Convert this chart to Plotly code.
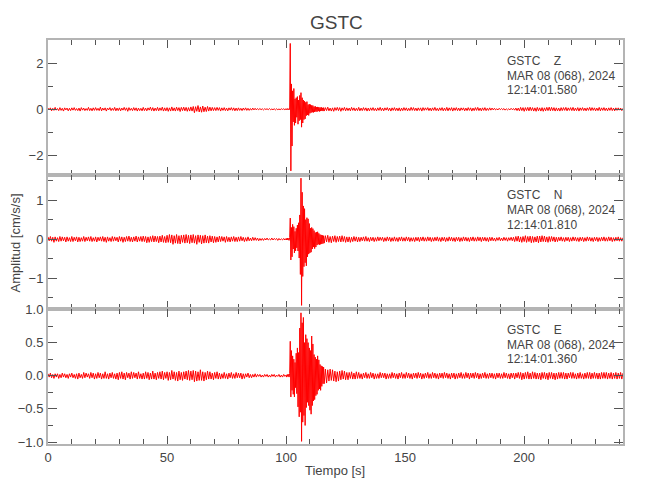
import plotly.graph_objects as go

# ---------------- data ----------------
STATION = "GSTC"
COMPONENTS = ["Z", "N", "E"]
DATE_TXT = "MAR 08 (068), 2024"
START_TIMES = ["12:14:01.580", "12:14:01.810", "12:14:01.360"]

# sampling of the traced values
PRE_START, PRE_STEP = 0.0, 0.5       # 0 .. 99.5 s
EVT_START, EVT_STEP = 100.0, 0.25    # 100 .. 115.75 s
POST_START, POST_STEP = 116.0, 0.5   # 116 .. 241.5 s

Z_PRE = [.05,-.03,.06,-.07,.04,-.05,.08,-.04,.03,-.06,.07,-.05,.04,-.08,.06,-.03,.05,-.07,.04,-.06,
         .06,-.04,.07,-.05,.03,-.06,.05,-.08,.07,-.04,.05,-.06,.03,-.05,.08,-.06,.04,-.07,.06,-.05,
         .07,-.05,.04,-.06,.09,-.07,.05,-.04,.06,-.08,.05,-.03,.07,-.06,.04,-.05,.08,-.07,.05,-.06,
         .06,-.07,.05,-.04,.08,-.05,.06,-.09,.07,-.05,.04,-.06,.07,-.05,.06,-.08,.05,-.06,.04,-.07,
         .08,-.06,.05,-.07,.06,-.04,.09,-.06,.07,-.08,.05,-.06,.08,-.07,.06,-.05,.09,-.08,.06,-.07,
         .07,-.09,.06,-.08,.10,-.07,.06,-.08,.09,-.06,.07,-.10,.08,-.06,.09,-.07,.08,-.09,.07,-.08,
         .10,-.08,.12,-.15,.11,-.09,.16,-.12,.10,-.13,.14,-.11,.09,-.10,.12,-.08,.09,-.07,.08,-.06,
         .07,-.06,.08,-.05,.07,-.08,.06,-.05,.07,-.06,.05,-.07,.06,-.04,.07,-.05,.06,-.07,.05,-.06,
         .06,-.05,.04,-.06,.05,-.04,.06,-.05,.04,-.05,.03,-.04,.05,-.03,.04,-.03,.03,-.02,.03,-.02,
         .02,-.03,.02,-.01,.02,-.02,.03,-.02,.01,-.02,.02,-.03,.02,-.02,.01,-.02,.02,-.01,.02,-.02]
Z_EVT = [.02,-.02,.03,-.02,.02,-.03,.05,2.86,-2.68,1.1,
         -1.6,.8,-.55,.9,-.7,.45,-.6,.5,-.35,.55,
         -.65,.4,-.5,.6,-.45,.72,-.78,.5,-.6,.4,
         -.45,.35,-.42,.3,-.28,.33,-.25,.2,-.27,.22,
         -.18,.2,-.15,.17,-.13,.16,-.14,.11,-.12,.13,
         -.1,.09,-.11,.1,-.08,.09,-.1,.07,-.08,.09,
         -.07,.06,-.08,.07]
Z_POST = [-.08,.07,-.06,.09,-.07,.05,-.08,.06,-.09,.07,-.05,.08,-.06,.07,-.09,.06,-.05,.08,-.07,.06,
          -.06,.05,-.07,.08,-.05,.06,-.07,.04,-.06,.08,-.07,.05,-.06,.07,-.05,.06,-.08,.05,-.07,.06,
          -.05,.07,-.06,.04,-.07,.06,-.05,.08,-.06,.05,-.07,.06,-.04,.07,-.06,.05,-.08,.06,-.05,.07,
          -.06,.05,-.07,.06,-.08,.05,-.06,.07,-.05,.06,-.07,.04,-.06,.08,-.05,.07,-.06,.05,-.07,.06,
          -.05,.06,-.08,.07,-.05,.06,-.04,.07,-.06,.05,-.07,.06,-.05,.08,-.06,.04,-.07,.06,-.05,.07,
          -.07,.05,-.06,.08,-.07,.06,-.05,.07,-.08,.06,-.05,.07,-.06,.05,-.07,.06,-.04,.06,-.07,.05,
          -.06,.07,-.05,.06,-.08,.05,-.06,.07,-.05,.08,-.06,.05,-.07,.06,-.05,.07,-.06,.04,-.05,.06,
          -.04,.05,-.03,.04,-.03,.02,-.03,.04,-.02,.03,-.02,.03,-.04,.02,-.03,.02,-.03,.04,-.02,.03,
          -.04,.05,-.06,.05,-.07,.08,-.06,.07,-.09,.07,-.06,.08,-.07,.09,-.06,.07,-.08,.06,-.09,.08,
          -.07,.06,-.08,.07,-.09,.06,-.07,.08,-.06,.09,-.07,.08,-.06,.07,-.08,.06,-.07,.05,-.08,.07,
          -.06,.07,-.05,.08,-.07,.06,-.05,.07,-.06,.08,-.07,.05,-.06,.07,-.08,.06,-.05,.07,-.06,.05,
          -.07,.06,-.05,.08,-.06,.07,-.05,.06,-.07,.05,-.06,.08,-.07,.06,-.05,.07,-.06,.05,-.07,.06,
          -.05,.07,-.06,.05,-.07,.06,-.05,.06,-.04,.05,-.06,.04]

N_PRE = [.06,-.04,.07,-.05,.05,-.08,.06,-.05,.04,-.06,.07,-.05,.06,-.04,.05,-.07,.06,-.05,.04,-.06,
         .07,-.06,.05,-.04,.06,-.07,.05,-.06,.04,-.05,.07,-.06,.05,-.04,.06,-.05,.07,-.06,.04,-.05,
         .06,-.07,.05,-.04,.06,-.05,.07,-.06,.05,-.08,.06,-.05,.04,-.06,.07,-.05,.06,-.04,.05,-.07,
         .07,-.05,.06,-.08,.05,-.06,.07,-.05,.08,-.06,.05,-.07,.06,-.05,.08,-.07,.06,-.05,.07,-.06,
         .08,-.06,.07,-.09,.06,-.08,.07,-.06,.09,-.07,.08,-.06,.07,-.09,.08,-.07,.10,-.08,.07,-.09,
         .10,-.08,.12,-.09,.11,-.13,.09,-.10,.12,-.11,.09,-.12,.10,-.08,.11,-.10,.12,-.09,.10,-.11,
         .11,-.09,.12,-.10,.09,-.13,.11,-.08,.10,-.12,.09,-.10,.11,-.09,.08,-.10,.09,-.07,.08,-.09,
         .07,-.08,.06,-.07,.08,-.06,.07,-.05,.06,-.08,.07,-.06,.05,-.07,.06,-.05,.07,-.06,.05,-.06,
         .06,-.05,.07,-.04,.05,-.06,.04,-.05,.06,-.04,.03,-.04,.05,-.03,.04,-.03,.03,-.04,.02,-.03,
         .02,-.03,.02,-.02,.03,-.02,.01,-.02,.03,-.02,.02,-.01,.02,-.03,.02,-.02,.01,-.02,.02,-.02]
N_EVT = [.02,-.02,.03,-.02,.02,-.03,.04,.54,-.53,.3,
         -.45,.38,-.25,.32,-.35,.2,-.3,.28,-.22,.36,
         -.3,.42,-.48,.62,-.9,1.56,-1.69,1.2,-.95,.85,
         -.7,.78,-.6,.5,-.68,.55,-.45,.52,-.38,.4,
         -.35,.28,-.33,.3,-.25,.27,-.2,.22,-.24,.17,
         -.2,.18,-.15,.19,-.13,.15,-.14,.12,-.13,.11,
         -.12,.1,-.11,.09]
N_POST = [-.1,.09,-.07,.1,-.08,.07,-.09,.08,-.06,.09,-.08,.07,-.06,.08,-.07,.09,-.06,.07,-.08,.06,
          -.07,.06,-.08,.05,-.06,.07,-.05,.06,-.07,.05,-.06,.05,-.04,.06,-.05,.07,-.05,.04,-.06,.05,
          -.04,.05,-.06,.04,-.05,.06,-.04,.05,-.03,.05,-.06,.04,-.05,.06,-.04,.05,-.06,.04,-.05,.06,
          -.05,.04,-.06,.05,-.04,.06,-.05,.04,-.05,.06,-.04,.05,-.06,.04,-.05,.04,-.06,.05,-.04,.05,
          -.06,.05,-.04,.06,-.05,.04,-.05,.06,-.04,.05,-.06,.04,-.05,.05,-.04,.06,-.05,.04,-.06,.05,
          -.04,.05,-.06,.04,-.05,.06,-.04,.05,-.05,.04,-.06,.05,-.04,.05,-.06,.04,-.05,.06,-.04,.05,
          -.05,.04,-.06,.05,-.04,.06,-.05,.04,-.05,.06,-.04,.05,-.06,.05,-.04,.05,-.05,.04,-.06,.05,
          -.04,.05,-.04,.03,-.05,.04,-.03,.05,-.04,.03,-.04,.05,-.03,.04,-.05,.04,-.03,.05,-.04,.05,
          -.06,.07,-.05,.08,-.07,.06,-.08,.07,-.06,.09,-.08,.07,-.06,.08,-.09,.07,-.08,.06,-.07,.08,
          -.09,.08,-.07,.09,-.06,.08,-.07,.06,-.08,.07,-.06,.07,-.05,.06,-.07,.05,-.06,.05,-.04,.06,
          -.05,.04,-.06,.05,-.04,.05,-.06,.04,-.05,.06,-.04,.05,-.05,.04,-.06,.05,-.04,.05,-.06,.04,
          -.05,.06,-.04,.05,-.05,.04,-.06,.05,-.04,.05,-.06,.04,-.05,.05,-.04,.06,-.05,.04,-.05,.06,
          -.04,.05,-.06,.04,-.05,.05,-.04,.06,-.05,.04,-.05,.04]

E_PRE = [.03,-.02,.04,-.03,.02,-.04,.03,-.02,.03,-.04,.02,-.03,.04,-.02,.03,-.03,.02,-.04,.03,-.02,
         .04,-.03,.02,-.04,.03,-.05,.04,-.03,.02,-.04,.05,-.03,.04,-.02,.03,-.04,.05,-.03,.04,-.05,
         .03,-.04,.05,-.03,.04,-.05,.03,-.04,.06,-.04,.03,-.05,.04,-.03,.05,-.04,.03,-.05,.04,-.06,
         .05,-.04,.06,-.05,.04,-.06,.05,-.03,.04,-.05,.06,-.04,.05,-.03,.04,-.05,.06,-.04,.03,-.05,
         .04,-.05,.06,-.04,.05,-.06,.04,-.05,.07,-.05,.04,-.06,.05,-.04,.06,-.05,.07,-.06,.05,-.04,
         .06,-.07,.05,-.06,.08,-.05,.06,-.07,.05,-.08,.07,-.06,.05,-.07,.06,-.05,.07,-.06,.08,-.07,
         .07,-.06,.08,-.09,.07,-.08,.06,-.07,.09,-.07,.06,-.08,.05,-.06,.07,-.05,.06,-.05,.04,-.06,
         .05,-.04,.06,-.05,.04,-.05,.03,-.04,.05,-.04,.03,-.05,.04,-.03,.05,-.04,.03,-.04,.05,-.03,
         .04,-.03,.04,-.05,.03,-.04,.03,-.02,.04,-.03,.02,-.03,.02,-.02,.03,-.02,.02,-.01,.02,-.02,
         .01,-.02,.02,-.01,.02,-.02,.01,-.02,.02,-.01,.02,-.02,.01,-.01,.02,-.02,.01,-.02,.02,-.01]
E_EVT = [.01,-.02,.02,-.01,.02,-.02,.03,.52,-.32,.38,
         -.22,.3,-.28,.25,-.32,.2,-.18,.34,-.27,.42,
         -.47,.35,-.62,.72,-.55,.95,-.99,.8,-.7,.88,
         -.6,.5,-.75,.62,-.48,.56,-.4,.5,-.45,.42,
         -.52,.38,-.58,.6,-.45,.48,-.38,.32,-.36,.28,
         -.3,.25,-.28,.3,-.22,.24,-.2,.17,-.22,.15,
         -.16,.14,-.12,.13]
E_POST = [-.12,.1,-.11,.09,-.08,.1,-.07,.09,-.08,.07,-.09,.06,-.08,.07,-.06,.08,-.05,.07,-.06,.05,
          -.06,.05,-.04,.06,-.05,.04,-.05,.06,-.04,.05,-.04,.03,-.05,.04,-.03,.05,-.04,.03,-.04,.05,
          -.03,.04,-.05,.03,-.04,.03,-.04,.05,-.03,.04,-.03,.04,-.05,.03,-.04,.03,-.04,.05,-.03,.04,
          -.04,.03,-.05,.04,-.03,.05,-.04,.03,-.04,.05,-.03,.04,-.04,.03,-.05,.04,-.03,.04,-.04,.05,
          -.03,.04,-.05,.03,-.04,.04,-.03,.05,-.04,.03,-.04,.05,-.03,.04,-.04,.03,-.05,.04,-.03,.04,
          -.04,.05,-.03,.04,-.04,.03,-.05,.04,-.03,.04,-.05,.03,-.04,.04,-.03,.05,-.04,.03,-.04,.05,
          -.03,.04,-.05,.04,-.03,.04,-.04,.05,-.03,.04,-.05,.03,-.04,.04,-.03,.05,-.04,.03,-.04,.04,
          -.03,.04,-.04,.03,-.05,.04,-.03,.04,-.04,.03,-.04,.05,-.03,.04,-.04,.03,-.05,.04,-.03,.04,
          -.05,.04,-.03,.05,-.04,.05,-.06,.04,-.05,.05,-.04,.06,-.05,.04,-.05,.06,-.04,.05,-.05,.04,
          -.05,.04,-.06,.05,-.04,.05,-.05,.04,-.06,.05,-.04,.05,-.05,.04,-.06,.04,-.05,.05,-.04,.05,
          -.04,.05,-.05,.04,-.05,.04,-.03,.05,-.04,.05,-.04,.03,-.05,.04,-.04,.05,-.04,.03,-.05,.04,
          -.04,.05,-.04,.05,-.05,.04,-.04,.05,-.04,.04,-.05,.04,-.05,.05,-.04,.05,-.04,.05,-.05,.04,
          -.04,.05,-.05,.04,-.04,.05,-.05,.04,-.04,.05,-.05,.04]

TRACES = [(Z_PRE, Z_EVT, Z_POST), (N_PRE, N_EVT, N_POST), (E_PRE, E_EVT, E_POST)]

X_RANGE = [0, 241.5]
Y_RANGES = [[-2.86, 3.01], [-1.79, 1.64], [-1.03, 1.003]]
Y_DTICK = [2, 1, 0.5]
Y_MINOR = [1, 0.5, 0.25]
Y_FMT = ["", "", ".1f"]

# ---------------- figure ----------------
FONT = "Liberation Sans, Arial, sans-serif"
TXT = "#444444"
FRAME = "#b4b4b4"
TICK = "#555555"

def times(seg, start, step):
    return [start + step * i for i in range(len(seg))]

fig = go.Figure()
domains = [[0.6658, 1.0], [0.3334, 0.6658], [0.0, 0.3334]]

for k, (pre, evt, post) in enumerate(TRACES):
    t = times(pre, PRE_START, PRE_STEP) + times(evt, EVT_START, EVT_STEP) + times(post, POST_START, POST_STEP)
    v = list(pre) + list(evt) + list(post)
    sfx = "" if k == 0 else str(k + 1)
    fig.add_trace(go.Scatter(x=t, y=v, mode="lines", line=dict(color="#ff0000", width=1),
                             xaxis="x" + sfx, yaxis="y" + sfx, showlegend=False,
                             hoverinfo="skip"))
    xa = dict(domain=[0, 1], anchor="y" + sfx, range=X_RANGE, showgrid=False, zeroline=False,
              showline=True, linecolor=FRAME, linewidth=2, mirror="allticks",
              ticks="inside", ticklen=8, tickwidth=1, tickcolor=TICK, dtick=50, tick0=0,
              minor=dict(ticks="inside", ticklen=5, tickwidth=1, tickcolor=TICK, dtick=10, showgrid=False),
              showticklabels=(k == 2), tickfont=dict(family=FONT, size=13, color=TXT))
    ya = dict(domain=domains[k], anchor="x" + sfx, range=Y_RANGES[k], showgrid=False, zeroline=False,
              showline=True, linecolor=FRAME, linewidth=2, mirror="allticks",
              ticks="inside", ticklen=9, tickwidth=1, tickcolor=TICK, dtick=Y_DTICK[k], tick0=0,
              minor=dict(ticks="inside", ticklen=5, tickwidth=1, tickcolor=TICK, dtick=Y_MINOR[k], showgrid=False),
              tickformat=Y_FMT[k], tickfont=dict(family=FONT, size=13, color=TXT))
    fig.update_layout(**{"xaxis" + sfx: xa, "yaxis" + sfx: ya})

annotations = []
label_y = [[0.947, 0.912, 0.877], [0.6156, 0.578, 0.543], [0.2815, 0.246, 0.21]]
for k, comp in enumerate(COMPONENTS):
    lines = [STATION + "\u00a0\u00a0\u00a0\u00a0" + comp, DATE_TXT, START_TIMES[k]]
    for j, txt in enumerate(lines):
        annotations.append(dict(text=txt, xref="paper", yref="paper", x=0.7955, y=label_y[k][j],
                                xanchor="left", yanchor="middle", showarrow=False,
                                font=dict(family=FONT, size=12, color=TXT)))

annotations.append(dict(text=STATION, xref="paper", yref="paper", x=0.501, y=1.044,
                        xanchor="center", yanchor="middle", showarrow=False,
                        font=dict(family=FONT, size=19, color=TXT)))
annotations.append(dict(text="Tiempo [s]", xref="paper", yref="paper", x=0.499, y=-0.0667,
                        xanchor="center", yanchor="middle", showarrow=False,
                        font=dict(family=FONT, size=13, color=TXT)))
annotations.append(dict(text="Amplitud [cm/s/s]", xref="paper", yref="paper", x=-0.0574, y=0.499,
                        xanchor="center", yanchor="middle", showarrow=False, textangle=-90,
                        font=dict(family=FONT, size=13, color=TXT)))

fig.update_layout(width=650, height=500, margin=dict(l=48, r=27, t=40, b=56),
                  paper_bgcolor="white", plot_bgcolor="white",
                  annotations=annotations, showlegend=False)

fig.write_html("out.html", config={"displayModeBar": False},
               post_script="document.body.style.margin='0px';")
